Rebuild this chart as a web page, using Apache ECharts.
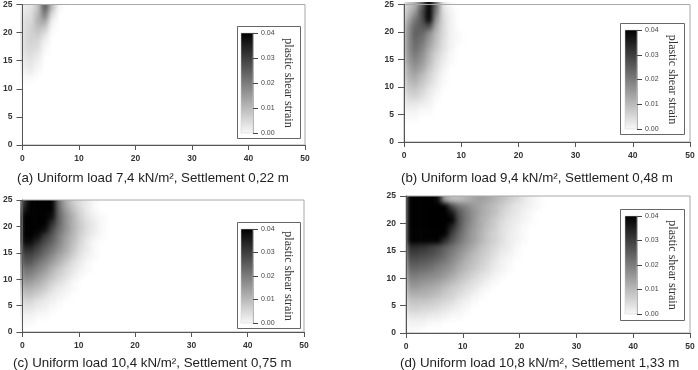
<!DOCTYPE html>
<html><head><meta charset="utf-8">
<script src="https://cdn.jsdelivr.net/npm/echarts@6/dist/echarts.min.js"></script>
<style>
html,body{margin:0;padding:0;background:#fff;}
#wrap{position:relative;width:698px;height:370px;overflow:hidden;background:#fff;}
.clip{position:absolute;overflow:hidden;}
.heat{position:absolute;filter:blur(2.5px);}
#main{position:absolute;left:0;top:0;width:698px;height:370px;}
</style></head><body>
<div id="wrap"><div id="main"></div></div>
<script>
// ---------------- DATA ----------------
// Plastic shear strain, in units of 0.001.
// Rows run from the top of the model (y = 25 m) downward, columns from x = 0 rightward,
// each cell 1.25 m x 1.25 m; omitted trailing cells are 0.
const STRAIN_UNIT = 0.001;
const CELL = 1.25;
const strainA = [
  [3,4,9,26,10,1],
  [4,5,11,21,5],
  [5,6,12,14,2],
  [5,7,10,8,1],
  [5,7,8,4],
  [5,7,6,2],
  [5,6,5,1],
  [4,5,3],
  [3,4,2],
  [2,3,1],
  [1,1]
];
const strainB = [
  [8,12,24,58,22,4,1],
  [10,16,28,58,20,5,2],
  [13,21,27,48,16,6,2],
  [16,24,26,28,13,6,2],
  [17,25,24,18,11,6,2,1],
  [17,24,22,16,10,5,2,1],
  [17,23,20,14,9,5,2],
  [16,21,18,12,7,4,1],
  [15,19,16,11,6,3,1],
  [13,17,14,9,5,2],
  [12,14,11,7,4,1],
  [10,12,9,6,3,1],
  [8,9,7,4,2],
  [6,7,5,3,1],
  [4,4,3,2],
  [2,2,1,1],
  [1,1]
];
const strainC = [
  [32,40,50,60,44,22,13,8,5,3,1],
  [36,44,50,60,42,23,15,10,6,3,1],
  [44,50,50,55,38,24,17,12,7,4,2,1],
  [50,50,50,48,33,24,17,12,8,5,3,1],
  [50,50,46,38,29,22,17,12,8,5,3,1],
  [46,46,38,31,26,20,15,11,7,4,2,1],
  [38,38,33,28,24,19,14,10,6,3,1],
  [33,33,29,25,21,17,13,9,5,3,1],
  [29,29,26,22,18,14,11,7,4,2,1],
  [26,26,22,19,15,12,8,5,3,1],
  [22,22,19,16,12,9,6,4,2,1],
  [19,19,16,13,10,7,5,3,1],
  [16,15,13,10,7,5,3,1],
  [12,12,10,8,5,3,2,1],
  [9,9,7,5,3,2,1],
  [6,6,4,3,2,1],
  [4,4,3,2,1],
  [2,2,1,1],
  [1,1]
];
const strainD = [
  [50,50,50,50,38,14,10,10,12,14,15,14,12,10,8,6,4,2,1],
  [50,50,50,50,50,42,28,22,19,16,14,12,10,8,6,4,3,2,1],
  [50,50,50,50,50,50,36,26,21,17,14,12,10,7,5,4,2,1],
  [50,50,50,50,50,50,40,27,21,17,13,11,8,6,4,3,2,1],
  [50,50,50,50,50,50,34,26,20,16,13,10,8,5,4,2,1],
  [50,50,50,50,50,42,30,24,19,15,12,9,7,5,3,2,1],
  [48,48,48,46,40,33,27,22,18,15,12,9,7,5,3,2,1],
  [33,33,32,30,28,25,22,19,16,13,10,8,6,4,3,1],
  [30,30,29,28,26,23,20,17,14,11,9,7,5,3,2,1],
  [27,27,26,25,23,21,18,15,12,10,8,6,4,2,1],
  [24,24,23,22,20,18,16,13,11,9,7,5,3,2,1],
  [21,21,20,19,18,16,14,11,9,7,5,4,2,1],
  [18,18,17,16,15,13,11,9,7,5,4,2,1],
  [15,15,14,13,12,10,8,7,5,4,2,1],
  [12,12,12,11,10,8,7,5,4,2,1],
  [9,9,9,8,7,6,5,3,2,1],
  [7,7,6,6,5,4,3,2,1],
  [4,4,4,3,3,2,1,1],
  [2,2,2,1,1],
  [1,1]
];
const captions = [
  '(a) Uniform load 7,4 kN/m², Settlement 0,22 m',
  '(b) Uniform load 9,4 kN/m², Settlement 0,48 m',
  '(c) Uniform load 10,4 kN/m², Settlement 0,75 m',
  '(d) Uniform load 10,8 kN/m², Settlement 1,33 m'
];
const xRange = [0, 50], xStep = 10;
const yRange = [0, 25], yStep = 5;
const legendRange = [0, 0.04], legendStep = 0.01;
const legendTitle = 'plastic shear strain';

// ---------------- LAYOUT ----------------
const PANELS = [
  {l:20,  t:4,   w:285, h:141, box:{x:237,y:26, w:63,h:112}, bar:{x:241,y:33, w:12,h:100}, cap:{x:17, y:172}},
  {l:404, t:2,   w:286, h:140, box:{x:620,y:23, w:64,h:111}, bar:{x:625,y:30, w:12,h:99},  cap:{x:401,y:172}},
  {l:20,  t:200, w:284, h:132, box:{x:237,y:222,w:63,h:106}, bar:{x:241,y:229,w:12,h:94},  cap:{x:13, y:357}},
  {l:406, t:196, w:284, h:137, box:{x:620,y:209,w:64,h:111}, bar:{x:625,y:216,w:12,h:98},  cap:{x:400,y:357}}
];
const GRIDS = [strainA, strainB, strainC, strainD];
const EDGE = 10;
const GRAYS = ['#ffffff', '#000000'];

function toCells(rows) {
  const out = [];
  rows.forEach((row, i) => row.forEach((v, j) => {
    if (v > 0) out.push([(j + 0.5) * CELL, yRange[1] - (i + 0.5) * CELL, v * STRAIN_UNIT]);
  }));
  return out;
}
function heatItem(params, api) {
  const x = api.value(0), y = api.value(1);
  const a = api.coord([x - CELL / 2, y + CELL / 2]);
  const b = api.coord([x + CELL / 2, y - CELL / 2]);
  const top = (y + CELL / 2 >= yRange[1] - 1e-9) ? a[1] - EDGE : a[1];
  return {type: 'rect', shape: {x: a[0], y: top, width: b[0] - a[0] + 0.6, height: b[1] - top + 0.6},
          style: {fill: api.visual('color')}};
}

const wrap = document.getElementById('wrap');
const mainDiv = document.getElementById('main');
PANELS.forEach((p, k) => {
  const clip = document.createElement('div');
  clip.className = 'clip';
  Object.assign(clip.style, {left: p.l + 'px', top: p.t + 'px', width: p.w + 'px', height: p.h + 'px'});
  const inner = document.createElement('div');
  inner.className = 'heat';
  Object.assign(inner.style, {left: -EDGE + 'px', top: -EDGE + 'px', width: (p.w + 2 * EDGE) + 'px', height: (p.h + 2 * EDGE) + 'px'});
  clip.appendChild(inner);
  wrap.insertBefore(clip, mainDiv);
  const c = echarts.init(inner, null, {width: p.w + 2 * EDGE, height: p.h + 2 * EDGE});
  c.setOption({
    animation: false,
    grid: {left: EDGE, top: EDGE, width: p.w, height: p.h},
    xAxis: {type: 'value', min: xRange[0], max: xRange[1], show: false},
    yAxis: {type: 'value', min: yRange[0], max: yRange[1], show: false},
    visualMap: {show: false, type: 'continuous', min: legendRange[0], max: legendRange[1], dimension: 2, inRange: {color: GRAYS}},
    series: [{type: 'custom', renderItem: heatItem, data: toCells(GRIDS[k]), clip: false}]
  });
});

// ---------------- AXES, LEGENDS, CAPTIONS ----------------
const FONT = 'Liberation Sans';
const grid = [], xAxis = [], yAxis = [], series = [], graphic = [], title = [];
PANELS.forEach((p, k) => {
  grid.push({left: p.l, top: p.t, width: p.w, height: p.h, show: true, borderColor: '#a8a8a8', borderWidth: 1, backgroundColor: 'transparent'});
  xAxis.push({gridIndex: k, type: 'value', min: xRange[0], max: xRange[1], interval: xStep,
    axisLine: {show: true, onZero: false, lineStyle: {color: '#555', width: 1}},
    axisTick: {show: true, inside: false, length: 5, lineStyle: {color: '#555'}},
    axisLabel: {margin: 9, fontSize: 8.5, fontWeight: 'bold', color: '#333', fontFamily: FONT},
    splitLine: {show: false}});
  yAxis.push({gridIndex: k, type: 'value', min: yRange[0], max: yRange[1], interval: yStep,
    axisLine: {show: true, onZero: false, lineStyle: {color: '#555', width: 1}},
    axisTick: {show: true, inside: false, length: 6, lineStyle: {color: '#555'}},
    axisLabel: {margin: 10, fontSize: 8.5, fontWeight: 'bold', color: '#333', fontFamily: FONT},
    splitLine: {show: false}});
  graphic.push({type: 'rect', z: 1, shape: {x: p.box.x + 0.5, y: p.box.y + 0.5, width: p.box.w, height: p.box.h},
    style: {fill: '#fff', stroke: '#666', lineWidth: 1}});
  title.push({text: captions[k], left: p.cap.x, top: p.cap.y, padding: 0,
    textStyle: {fontSize: 13.3, fontWeight: 'normal', color: '#222', fontFamily: FONT}});
});
PANELS.forEach((p, k) => {
  const gi = 4 + k;
  grid.push({left: p.bar.x, top: p.bar.y, width: p.bar.w, height: p.bar.h, z: 5});
  xAxis.push({gridIndex: gi, type: 'value', min: 0, max: 1, show: false});
  yAxis.push({gridIndex: gi, type: 'value', position: 'right', min: legendRange[0], max: legendRange[1], interval: legendStep, z: 6,
    axisLine: {show: true, onZero: false, lineStyle: {color: '#777', width: 0.5}},
    axisTick: {show: true, inside: false, length: 5, lineStyle: {color: '#444', width: 1}},
    axisLabel: {margin: 8, fontSize: 7, color: '#444', fontFamily: FONT, formatter: v => v.toFixed(2)},
    splitLine: {show: false},
    name: legendTitle, nameLocation: 'middle', nameRotate: -90, nameGap: 29,
    nameTextStyle: {fontFamily: 'Liberation Serif', fontSize: 12, color: '#333'}});
  series.push({type: 'custom', xAxisIndex: gi, yAxisIndex: gi, z: 5, data: [[0, 0]], silent: true,
    renderItem: (params, api) => {
      const a = api.coord([0, legendRange[1]]);
      const b = api.coord([1, legendRange[0]]);
      return {type: 'rect', shape: {x: a[0], y: a[1], width: b[0] - a[0], height: b[1] - a[1]},
        style: {fill: new echarts.graphic.LinearGradient(0, 0, 0, 1, [{offset: 0, color: GRAYS[1]}, {offset: 1, color: '#f8f8f8'}]),
                stroke: '#ccc', lineWidth: 0.5}};
    }});
});
const chart = echarts.init(mainDiv, null, {width: 698, height: 370});
chart.setOption({animation: false, backgroundColor: 'transparent', title, grid, xAxis, yAxis, series, graphic});
</script>
</body></html>
